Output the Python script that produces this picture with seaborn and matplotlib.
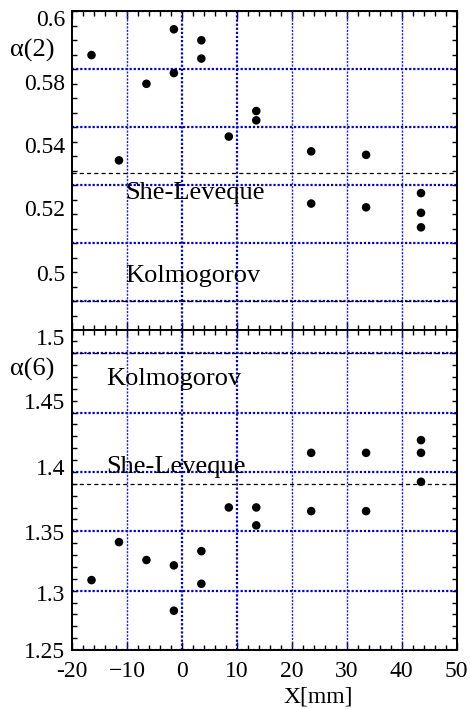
import numpy as np
import pandas as pd
import matplotlib
matplotlib.use("Agg")
import matplotlib.pyplot as plt
from matplotlib.ticker import MultipleLocator
import seaborn as sns

# ---------------- data ----------------
x_pos = [-16.5, -11.5, -6.5, -1.5, -1.5, 3.5, 3.5, 8.5, 13.5, 13.5,
         23.5, 23.5, 33.5, 33.5, 43.5, 43.5, 43.5]
alpha2 = [0.5848, 0.5485, 0.5749, 0.5937, 0.5786, 0.5899, 0.5836, 0.5567,
          0.5655, 0.5623, 0.5516, 0.5336, 0.5504, 0.5323, 0.5372, 0.5304, 0.5254]
alpha6 = [1.3089, 1.3409, 1.3258, 1.3213, 1.2831, 1.3333, 1.3058, 1.3701,
          1.3701, 1.3550, 1.4161, 1.3670, 1.4161, 1.3670, 1.4268, 1.4161, 1.3917]

kolmogorov = {"a2": 0.50, "a6": 1.50}
she_leveque = {"a2": 0.544, "a6": 1.3895}

xtick_vals = [-20, -10, 0, 10, 20, 30, 40, 50]
xtick_labels = ["-20", "\u221210", "0", "10", "20", "30", "40", "50"]

top_ytick_labels = ["0.6", "0.58", "0.54", "0.52", "0.5"]
bottom_ytick_labels = ["1.5", "1.45", "1.4", "1.35", "1.3", "1.25"]

# ---------------- layout / style ----------------
top_ytick_pos = [0.5975, 0.5756, 0.5538, 0.5320, 0.5096]
bottom_ytick_pos = [1.5135, 1.4596, 1.4040, 1.3493, 1.2980, 1.25]
top_grid = [0.50, 0.52, 0.54, 0.56, 0.58, 0.60]
bottom_grid = [1.25, 1.30, 1.35, 1.40, 1.45, 1.50]
thick_xgrid = [0, 10]

BLUE = "#0000D0"
THIN_BLUE = "#1a1aF0"

sns.set_theme(style="ticks")
plt.rcParams["font.family"] = ["Liberation Serif", "DejaVu Serif"]
plt.rcParams["axes.unicode_minus"] = False
plt.rcParams["text.color"] = "black"
plt.rcParams["axes.labelcolor"] = "black"
plt.rcParams["xtick.color"] = "black"
plt.rcParams["ytick.color"] = "black"

df = pd.DataFrame({"x": x_pos, "a2": alpha2, "a6": alpha6})

fig = plt.figure(figsize=(4.7, 7.09), dpi=100)
L, W = 72.3 / 470, (456.7 - 72.3) / 470
ax1 = fig.add_axes([L, 1 - 330 / 709, W, 319 / 709])
ax2 = fig.add_axes([L, 1 - 650 / 709, W, 320 / 709])


def style_axis(ax, grid_vals, ylim, ytpos, ytlab, yminor, show_x):
    ax.set_facecolor("white")
    ax.set_xlim(-20, 50)
    ax.set_ylim(*ylim)
    # grid lines
    for gv in grid_vals:
        ax.axhline(gv, color=BLUE, lw=1.6, dashes=(1.0, 0.85), zorder=1,
                   dash_capstyle="butt")
    for xv in xtick_vals[1:-1]:
        if xv in thick_xgrid:
            ax.axvline(xv, color=BLUE, lw=1.6, dashes=(1.0, 0.85), zorder=1,
                       dash_capstyle="butt")
        else:
            ax.axvline(xv, color=THIN_BLUE, lw=1.0, dashes=(1.5, 1.0), zorder=1,
                       dash_capstyle="butt")
    # ticks
    ax.set_xticks(xtick_vals, xtick_labels if show_x else [""] * len(xtick_vals))
    ax.xaxis.set_minor_locator(MultipleLocator(2))
    ax.set_yticks(ytpos, ytlab)
    ax.yaxis.set_minor_locator(MultipleLocator(yminor))
    ax.tick_params(axis="both", which="both", direction="in",
                   top=True, bottom=True, left=True, right=True,
                   colors="black", labelcolor="black", width=1.0)
    ax.tick_params(axis="x", which="major", length=6, labelsize=17, pad=8)
    ax.tick_params(axis="x", which="minor", length=3.5)
    ax.tick_params(axis="y", which="major", length=0, labelsize=17, pad=5)
    ax.tick_params(axis="y", which="minor", length=3.5)
    for sp in ax.spines.values():
        sp.set_color("black")
        sp.set_linewidth(1.4)
        sp.set_zorder(5)


style_axis(ax1, top_grid, (0.49, 0.60), top_ytick_pos, top_ytick_labels, 0.005, False)
style_axis(ax2, bottom_grid, (1.25, 1.5196), bottom_ytick_pos, bottom_ytick_labels, 0.01, True)

# model lines
for ax, key in ((ax1, "a2"), (ax2, "a6")):
    ax.axhline(kolmogorov[key], color="black", lw=0.9, dashes=(3.3, 2.5), zorder=2)
    ax.axhline(she_leveque[key], color="black", lw=0.9, dashes=(3.3, 2.5), zorder=2)

# data points
sns.scatterplot(data=df, x="x", y="a2", ax=ax1, color="black", s=38,
                edgecolor="none", marker="o", zorder=4, legend=False)
sns.scatterplot(data=df, x="x", y="a6", ax=ax2, color="black", s=38,
                edgecolor="none", marker="o", zorder=4, legend=False)

ax1.set_xlabel("")
ax1.set_ylabel("")
ax2.set_ylabel("")
ax2.set_xlabel("X[mm]", fontsize=17, color="black")
ax2.xaxis.set_label_coords((318 - 72.3) / 384.4, -0.147)
ax2.xaxis.label.set_verticalalignment("center")

# annotations
ax1.text(-10.4, 0.5372, "She-Leveque", fontsize=19, va="center", ha="left", zorder=3, color="black")
ax1.text(-10.4, 0.5086, "Kolmogorov", fontsize=19, va="center", ha="left", zorder=3, color="black")
ax2.text(-13.85, 1.404, "She-Leveque", fontsize=19, va="center", ha="left", zorder=3, color="black")
ax2.text(-13.85, 1.478, "Kolmogorov", fontsize=19, va="center", ha="left", zorder=3, color="black")

fig.text(10 / 470, 1 - 50 / 709, "\u03b1(2)", fontsize=19, va="center", ha="left", color="black")
fig.text(10 / 470, 1 - 369 / 709, "\u03b1(6)", fontsize=19, va="center", ha="left", color="black")

fig.savefig("out.png", dpi=100)
